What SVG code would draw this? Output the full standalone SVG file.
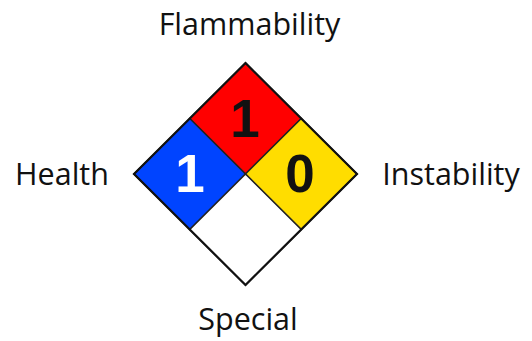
<svg xmlns="http://www.w3.org/2000/svg" width="532" height="341" viewBox="0 0 532 341">
<style>
.lbl{font-family:"Open Sans","Noto Sans",sans-serif;font-size:30.5px;fill:#111;text-anchor:middle}
.num{font-family:"Liberation Sans",Arial,sans-serif;font-weight:bold;font-size:53px;text-anchor:middle}
.q{stroke:#222;stroke-width:1.5;stroke-linejoin:miter}
</style>
<rect width="532" height="341" fill="#fff"/>
<g id="flammability">
<polygon class="q" points="245.5,63 301.25,118.5 245.5,174 189.75,118.5" fill="#ff0000"/>
<text class="num" x="245" y="137" fill="#111">1</text>
</g>
<g id="health">
<polygon class="q" points="189.75,118.5 245.5,174 189.75,229.5 134,174" fill="#0044ff"/>
<text class="num" x="190" y="192" fill="#fff">1</text>
</g>
<g id="instability">
<polygon class="q" points="301.25,118.5 357,174 301.25,229.5 245.5,174" fill="#ffdd00"/>
<text class="num" x="300" y="192" fill="#111">0</text>
</g>
<g id="special">
<polygon class="q" points="245.5,174 301.25,229.5 245.5,285 189.75,229.5" fill="#fff"/>
</g>
<polygon points="245.5,63 357,174 245.5,285 134,174" fill="none" stroke="#111" stroke-width="2.2"/>
<g id="labels">
<text class="lbl" x="249.5" y="35">Flammability</text>
<text class="lbl" x="62" y="185">Health</text>
<text class="lbl" x="451" y="185">Instability</text>
<text class="lbl" x="248" y="330">Special</text>
</g>
</svg>
